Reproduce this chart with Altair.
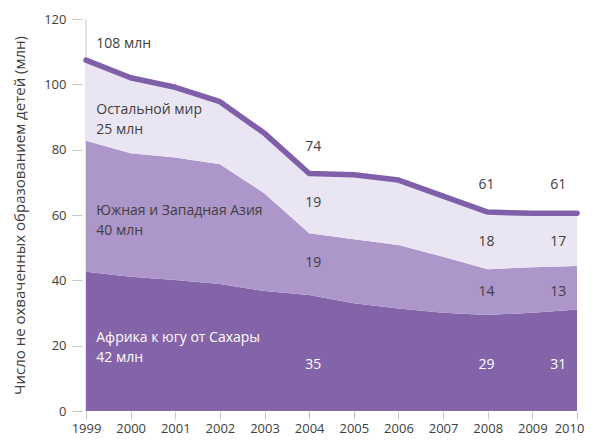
import altair as alt
import pandas as pd

years = list(range(1999, 2011))
africa = [42.6, 41.1, 40.1, 38.9, 36.7, 35.5, 33.0, 31.4, 30.1, 29.4, 30.1, 31.1]
asia = [40.1, 37.8, 37.5, 36.6, 29.9, 18.9, 19.6, 19.4, 17.1, 14.0, 13.9, 13.3]
rest = [24.7, 23.1, 21.5, 19.2, 18.4, 18.3, 19.7, 19.9, 18.6, 17.5, 16.5, 16.1]

regions = ["Африка к югу от Сахары", "Южная и Западная Азия", "Остальной мир"]
colors = ["#8464a9", "#ad96c9", "#eae5f3"]

y_title = "Число не охваченных образованием детей (млн)"
y_ticks = [0, 20, 40, 60, 80, 100, 120]

# left-side region labels (text, year, value, colour)
side_text = ["108 млн", "Остальной мир", "25 млн", "Южная и Западная Азия", "40 млн",
             "Африка к югу от Сахары", "42 млн"]
side_year = [1999.23] * 7
side_val = [112.3, 92.1, 86.0, 61.2, 55.1, 22.3, 16.2]
side_col = ["#404040"] * 5 + ["#ffffff"] * 2

# numeric labels
num_text = ["74", "19", "19", "35", "61", "18", "14", "29", "61", "17", "13", "31"]
num_year = [2004.09] * 4 + [2007.97] * 4 + [2009.58] * 4
num_val = [80.8, 63.7, 45.3, 14.1, 69.2, 51.7, 36.4, 14.1, 69.2, 51.7, 36.4, 14.1]
num_col = ["#404040"] * 3 + ["#ffffff"] + ["#404040"] * 3 + ["#ffffff"] + ["#404040"] * 3 + ["#ffffff"]

rows = []
for i, yr in enumerate(years):
    lo = 0.0
    for k, (name, vals) in enumerate(zip(regions, [africa, asia, rest])):
        rows.append({"year": yr, "region": name, "lo": lo, "hi": lo + vals[i], "order": k})
        lo += vals[i]
area_df = pd.DataFrame(rows)
total_df = pd.DataFrame({"year": years,
                         "total": [a + b + c for a, b, c in zip(africa, asia, rest)]})

FONT = "Open Sans"
x_scale = alt.Scale(domain=[1999, 2010], nice=False, zero=False)
y_scale = alt.Scale(domain=[0, 120], nice=False)

axis_rule = alt.Chart(pd.DataFrame({"x": [1999], "y": [0], "y2": [120]})).mark_rule(
    color="#c8c8c8", strokeWidth=1
).encode(
    x=alt.X("x:Q", scale=x_scale),
    y=alt.Y("y:Q", scale=y_scale),
    y2="y2:Q",
)

areas = alt.Chart(area_df).mark_area(opacity=1, interpolate="linear").encode(
    x=alt.X("year:Q", scale=x_scale,
            axis=alt.Axis(values=years, format="d", domain=False, grid=False,
                          tickSize=8, tickColor="#c8c8c8", labelPadding=3,
                          labelFontSize=13, labelColor="#404040", labelFont=FONT,
                          labelFlush=False, title=None,
                          labelOffset={"condition": {"test": "datum.value == 2010", "value": -8},
                                       "value": 0})),
    y=alt.Y("lo:Q", scale=y_scale,
            axis=alt.Axis(values=y_ticks, domain=False, grid=False, offset=4,
                          tickSize=10, tickColor="#c8c8c8", labelPadding=6,
                          labelFontSize=13, labelColor="#404040", labelFont=FONT,
                          title=y_title, titleFont=FONT, titleFontSize=15,
                          titleFontWeight="normal", titleColor="#404040",
                          titlePadding=16)),
    y2="hi:Q",
    color=alt.Color("region:N", scale=alt.Scale(domain=regions, range=colors), legend=None),
    order="order:Q",
)

line = alt.Chart(total_df).mark_line(color="#7f5fa9", strokeWidth=5.5, strokeCap="round",
                                     strokeJoin="round").encode(
    x=alt.X("year:Q", scale=x_scale),
    y=alt.Y("total:Q", scale=y_scale),
)

side_df = pd.DataFrame({"t": side_text, "x": side_year, "y": side_val, "c": side_col})
side = alt.Chart(side_df).mark_text(align="left", baseline="middle", font=FONT,
                                    fontSize=14).encode(
    x=alt.X("x:Q", scale=x_scale), y=alt.Y("y:Q", scale=y_scale),
    text="t:N", color=alt.Color("c:N", scale=None),
)

num_df = pd.DataFrame({"t": num_text, "x": num_year, "y": num_val, "c": num_col})
nums = alt.Chart(num_df).mark_text(align="center", baseline="middle", font=FONT,
                                   fontSize=14).encode(
    x=alt.X("x:Q", scale=x_scale), y=alt.Y("y:Q", scale=y_scale),
    text="t:N", color=alt.Color("c:N", scale=None),
)

chart = alt.layer(axis_rule, areas, line, side, nums).properties(
    width=491, height=392,
    autosize=alt.AutoSizeParams(type="none"),
    padding={"left": 78, "top": 11, "right": 8, "bottom": 24},
).configure_view(stroke=None)

chart.save("out.html", embed_options={"renderer": "svg", "actions": False})
